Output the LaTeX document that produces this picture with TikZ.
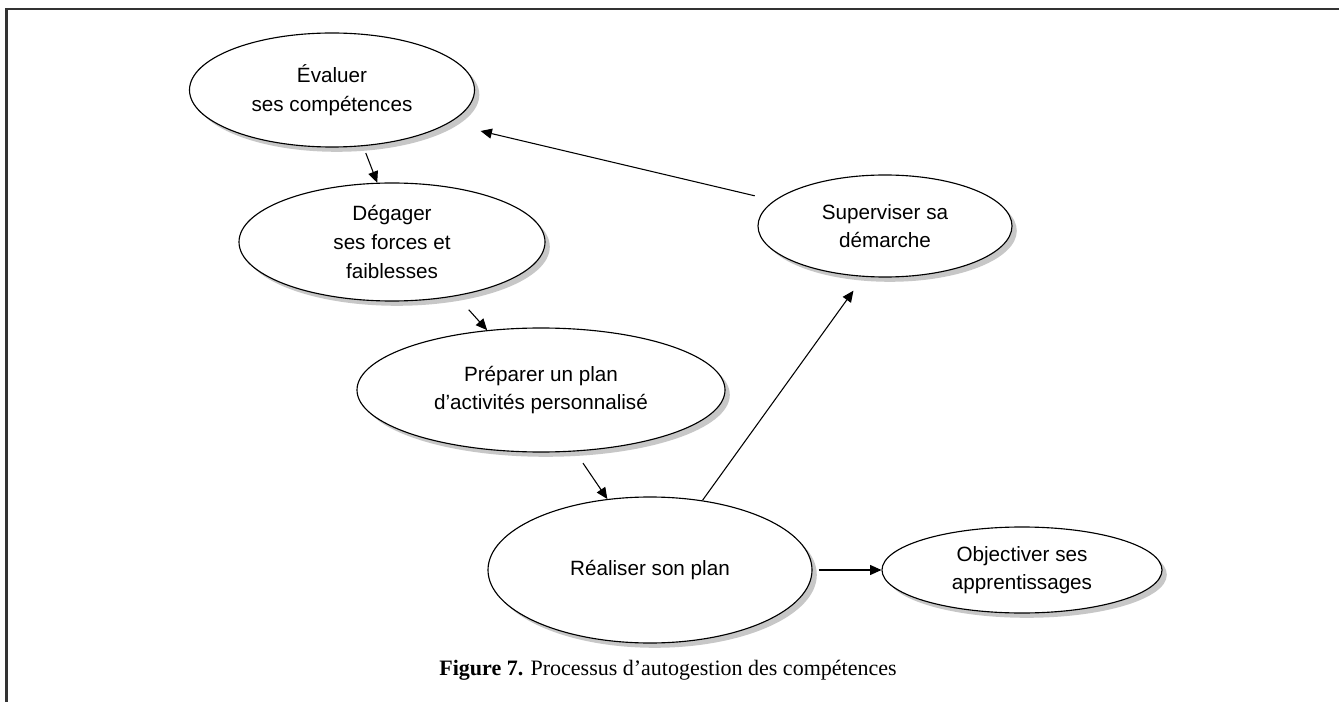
\documentclass[tikz,border=0pt]{standalone}
\usepackage{fontspec}
\setmainfont{Liberation Sans}
\newfontfamily\capfont{Liberation Serif}
\usetikzlibrary{shapes.geometric,shadows,arrows.meta}
\begin{document}
\begin{tikzpicture}[x=0.75pt,y=-0.75pt,
  bub/.style={ellipse, draw=black, line width=0.85pt, fill=white, inner sep=0pt, align=center,
    font=\fontsize{15.5}{21.5}\selectfont,
    drop shadow={shadow xshift=3.6pt, shadow yshift=-3.6pt, fill=black!22, opacity=1}},
  arr/.style={line width=0.8pt, -{Triangle[length=8.5pt,width=7.5pt]}},
  frame/.style={line width=1.6pt, draw=black!80}]
\useasboundingbox (0,0) rectangle (1339,702);
\fill[white] (0,0) rectangle (1339,702);
\draw[frame] (1339,9) -- (6.5,9) -- (6.5,702);
\node[bub, minimum width=213.75pt, minimum height=85.5pt] (eval) at (332,90) {Évaluer\\ses compétences};
\node[bub, minimum width=229.5pt, minimum height=88.5pt] (deg) at (392,242) {Dégager\\ses forces et\\faiblesses};
\node[bub, minimum width=276pt, minimum height=93pt] (prep) at (541,390) {Préparer un plan\\d'activités personnalisé};
\node[bub, minimum width=243pt, minimum height=109.5pt] (real) at (650,570) {Réaliser son plan};
\node[bub, minimum width=210pt, minimum height=64.5pt] (obj) at (1022,570) {Objectiver ses\\apprentissages};
\node[bub, minimum width=190.5pt, minimum height=76.5pt] (sup) at (885,226) {Superviser sa\\démarche};
\draw[arr, shorten <=5.5pt] (eval.-61) -- (deg.104);
\draw[arr, shorten <=13.8pt] (deg.-40.6) -- (prep.132);
\draw[arr, shorten <=10.5pt] (prep.-61.2) -- (real.121);
\draw[arr, shorten >=12.8pt] (real.53) -- (sup.-113.7);
\draw[arr, shorten <=15pt, shorten >=24.7pt] (sup.167.8) -- (eval.-16.8);
\draw[arr, shorten <=4.5pt] (real.east) -- (obj.west);
\node[font=\capfont\fontsize{16.5}{19}\selectfont, anchor=base] (cap) at (668,675) {\textbf{Figure 7.} Processus d’autogestion des compétences};
\end{tikzpicture}
\end{document}
